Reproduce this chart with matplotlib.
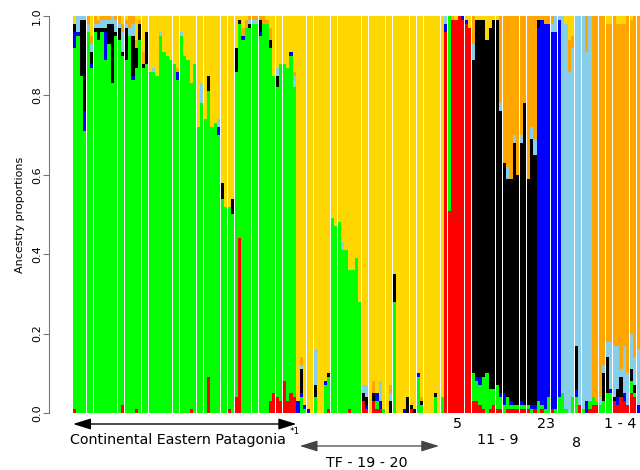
import numpy as np
import matplotlib
matplotlib.use('Agg')
import matplotlib.pyplot as plt

# cluster colours, stacked bottom -> top
cluster_colors = ['#FF0000', '#00FF00', '#0000FF', '#000000', '#87CEEB', '#FFA500', '#FFD700']

# ancestry proportions (%) per individual: red, green, blue, black, skyblue, orange, gold
cep = [
    [1, 91, 4, 2, 0, 0, 2], [0, 95, 1, 0, 4, 0, 0], [0, 85, 0, 14, 1, 0, 0], [0, 71, 5, 23, 1, 0, 0],
    [0, 96, 0, 0, 2, 2, 0], [0, 87, 1, 3, 2, 2, 5], [0, 96, 0, 1, 1, 2, 0], [0, 94, 0, 3, 1, 1, 1],
    [0, 96, 0, 1, 2, 1, 0], [0, 89, 7, 1, 2, 1, 0], [0, 93, 0, 5, 1, 1, 0], [0, 83, 0, 15, 2, 0, 0],
    [0, 95, 0, 1, 3, 1, 0], [0, 94, 0, 3, 1, 2, 0], [2, 88, 0, 1, 5, 2, 2], [0, 89, 0, 8, 1, 1, 1],
    [0, 95, 0, 0, 2, 3, 0], [0, 84, 1, 10, 3, 2, 0], [1, 86, 0, 5, 0, 2, 6], [0, 94, 0, 4, 0, 1, 1],
    [0, 87, 0, 1, 0, 3, 9], [0, 88, 0, 8, 0, 0, 4], [0, 86, 0, 0, 0, 0, 14], [0, 86, 0, 0, 1, 0, 13],
    [0, 85, 0, 0, 0, 0, 15], [0, 95, 0, 0, 1, 0, 4], [0, 91, 0, 0, 0, 0, 9], [0, 90, 0, 0, 0, 0, 10],
    [0, 89, 0, 0, 0, 0, 11], [0, 88, 0, 0, 0, 0, 12], [0, 84, 2, 0, 0, 1, 13], [0, 95, 0, 0, 1, 0, 4],
    [0, 90, 0, 0, 0, 0, 10], [0, 89, 0, 0, 0, 0, 11], [1, 82, 0, 0, 0, 0, 17], [0, 88, 0, 0, 0, 0, 12],
    [0, 72, 0, 0, 0, 0, 28], [0, 78, 0, 0, 5, 0, 17], [0, 74, 0, 0, 0, 0, 26], [9, 72, 0, 4, 0, 0, 15],
    [0, 72, 0, 0, 0, 0, 28], [0, 73, 0, 0, 0, 0, 27], [0, 70, 2, 0, 2, 0, 26], [0, 54, 0, 4, 0, 0, 42],
    [0, 52, 0, 0, 0, 0, 48], [1, 51, 0, 0, 0, 0, 48], [0, 50, 0, 4, 0, 0, 46], [4, 82, 0, 6, 0, 0, 8],
    [44, 54, 0, 1, 0, 0, 1], [0, 94, 1, 0, 0, 2, 3], [0, 97, 0, 0, 0, 2, 1], [0, 97, 0, 1, 1, 1, 0],
    [0, 98, 0, 0, 1, 1, 0], [0, 98, 0, 0, 1, 1, 0], [0, 95, 1, 3, 0, 1, 0], [0, 98, 0, 0, 0, 2, 0],
    [0, 98, 0, 0, 0, 1, 1], [3, 89, 0, 2, 0, 3, 3], [5, 80, 0, 0, 0, 0, 15], [4, 78, 0, 3, 2, 0, 13],
    [3, 85, 0, 0, 0, 0, 12], [8, 80, 0, 0, 0, 0, 12], [3, 84, 0, 0, 0, 0, 13], [5, 85, 1, 0, 0, 0, 9],
    [4, 78, 0, 0, 3, 1, 14],
]
tf = [
    [0, 0, 3, 0, 0, 0, 97], [0, 4, 1, 6, 1, 2, 86], [0, 1, 1, 0, 0, 0, 98], [0, 0, 1, 0, 0, 0, 99],
    [0, 0, 0, 0, 0, 0, 100], [0, 4, 0, 3, 9, 0, 84], [0, 0, 0, 0, 0, 0, 100], [0, 0, 0, 0, 0, 0, 100],
    [0, 7, 1, 0, 0, 0, 92], [1, 8, 0, 1, 0, 0, 90], [0, 49, 0, 0, 0, 0, 51], [0, 47, 0, 0, 0, 0, 53],
    [0, 48, 0, 0, 0, 0, 52], [0, 41, 0, 0, 2, 0, 57], [0, 41, 0, 0, 0, 0, 59], [1, 35, 0, 0, 0, 0, 64],
    [0, 36, 0, 0, 0, 0, 64], [0, 39, 0, 0, 0, 0, 61], [0, 28, 0, 0, 0, 0, 72], [3, 0, 0, 2, 2, 0, 93],
    [1, 0, 1, 2, 3, 0, 93], [0, 0, 0, 0, 0, 0, 100], [3, 0, 0, 2, 0, 3, 92], [1, 2, 2, 0, 0, 0, 95],
    [1, 0, 2, 0, 5, 0, 92], [0, 1, 0, 0, 0, 0, 99], [0, 0, 0, 0, 0, 0, 100], [0, 0, 0, 3, 2, 2, 93],
    [0, 28, 0, 7, 0, 0, 65], [0, 0, 0, 0, 0, 0, 100], [0, 0, 0, 0, 0, 0, 100], [0, 0, 1, 0, 0, 0, 99],
    [0, 0, 0, 4, 0, 0, 96], [1, 0, 0, 1, 0, 0, 98], [0, 0, 0, 1, 0, 0, 99], [0, 9, 1, 0, 0, 0, 90],
    [0, 2, 0, 1, 0, 1, 96], [0, 0, 0, 0, 0, 0, 100], [0, 0, 0, 0, 0, 0, 100], [0, 0, 0, 0, 0, 0, 100],
    [0, 4, 0, 1, 0, 0, 95], [0, 0, 0, 0, 0, 0, 100], [0, 4, 0, 0, 0, 0, 96],
]
g5 = [
    [96, 0, 2, 0, 2, 0, 0], [51, 49, 0, 0, 0, 0, 0], [99, 0, 0, 0, 0, 1, 0], [99, 0, 0, 0, 0, 0, 1],
    [100, 0, 0, 0, 0, 0, 0], [99, 0, 1, 0, 0, 0, 0], [98, 0, 1, 0, 0, 0, 1], [97, 0, 0, 0, 0, 0, 3],
]
g11_9 = [
    [3, 7, 0, 79, 4, 7, 0], [3, 5, 1, 90, 0, 0, 1], [2, 5, 2, 90, 0, 0, 1], [1, 8, 0, 90, 0, 0, 1],
    [0, 10, 0, 84, 0, 0, 6], [1, 5, 0, 91, 0, 0, 3], [2, 4, 0, 93, 0, 0, 1], [1, 6, 0, 92, 0, 0, 1],
    [1, 3, 1, 71, 2, 22, 0], [0, 2, 3, 58, 0, 37, 0], [1, 3, 0, 55, 3, 38, 0], [1, 1, 1, 56, 0, 41, 0],
    [1, 1, 0, 66, 2, 30, 0], [1, 1, 0, 58, 0, 40, 0], [1, 1, 1, 65, 2, 30, 0], [1, 1, 0, 76, 0, 22, 0],
    [1, 1, 0, 57, 0, 41, 0], [0, 1, 1, 67, 3, 28, 0], [1, 0, 1, 63, 4, 31, 0],
]
g23 = [
    [0, 3, 94, 2, 0, 1, 0], [1, 1, 97, 0, 0, 1, 0], [0, 1, 97, 0, 0, 2, 0], [0, 4, 94, 0, 0, 2, 0],
    [1, 0, 95, 0, 2, 2, 0], [0, 1, 95, 0, 4, 0, 0], [0, 4, 95, 0, 1, 0, 0],
]
g8 = [
    [0, 5, 0, 0, 95, 0, 0], [0, 1, 0, 0, 97, 0, 2], [0, 0, 0, 0, 86, 8, 6], [0, 4, 0, 0, 88, 3, 5],
    [0, 4, 2, 11, 83, 0, 0], [2, 0, 0, 0, 98, 0, 0], [0, 1, 0, 0, 99, 0, 0], [0, 0, 3, 0, 88, 9, 0],
    [1, 2, 0, 0, 97, 0, 0],
]
g1_4 = [
    [2, 2, 0, 0, 0, 96, 0], [2, 1, 0, 0, 0, 97, 0], [0, 2, 0, 0, 2, 96, 0], [0, 3, 0, 7, 2, 88, 0],
    [0, 5, 0, 9, 4, 80, 2], [0, 5, 1, 0, 12, 80, 2], [3, 0, 0, 1, 13, 83, 0], [2, 0, 2, 2, 11, 81, 2],
    [4, 0, 0, 5, 2, 87, 2], [3, 0, 2, 0, 12, 81, 2], [2, 0, 0, 0, 8, 90, 0], [5, 3, 0, 3, 9, 79, 1],
    [4, 1, 0, 2, 7, 86, 0], [0, 0, 2, 0, 14, 84, 0],
]

q = np.vstack([np.array(g, float) for g in [cep, tf, g5, g11_9, g23, g8, g1_4]])
q = q / q.sum(axis=1, keepdims=True)
n = len(q)

# group starts (bar index) for the annotations
s_tf = len(cep)
s5 = s_tf + len(tf)
s11 = s5 + len(g5)
s23 = s11 + len(g11_9)
s8 = s23 + len(g23)
s14 = s8 + len(g8)

fig = plt.figure(figsize=(6.4, 4.7), dpi=100)
ax = fig.add_axes([73/640, 57/470, 567/640, 397/470])

x = np.arange(n)
bottom = np.zeros(n)
for k, col in enumerate(cluster_colors):
    ax.bar(x, q[:, k], bottom=bottom, width=0.92, align='edge', color=col, linewidth=0)
    bottom += q[:, k]

ax.set_xlim(0, n)
ax.set_ylim(0, 1)
for s in ['top', 'right', 'bottom']:
    ax.spines[s].set_visible(False)
ax.spines['left'].set_position(('outward', 17))
ax.spines['left'].set_color('#777777')
ax.set_xticks([])
ax.set_yticks(np.arange(0, 1.01, 0.2))
ax.set_yticklabels(['%.1f' % v for v in np.arange(0, 1.01, 0.2)])
ax.tick_params(axis='y', length=4.3, width=0.8, color='#777777', labelsize=8, pad=1)
for lab in ax.get_yticklabels():
    lab.set_rotation(90)
    lab.set_va('center')
ax.set_ylabel('Ancestry proportions', fontsize=8)
ax.yaxis.set_label_coords(-0.085, 0.5)


def fy(py):
    return 1 - py / 470.0


# arrows spanning the two big groups
arrow = '<|-|>,head_length=0.9,head_width=0.28'
ax.annotate('', xy=(0, fy(424)), xytext=(s_tf, fy(424)), xycoords=('data', 'figure fraction'),
            textcoords=('data', 'figure fraction'), annotation_clip=False,
            arrowprops=dict(arrowstyle=arrow, color='black', lw=1.0,
                            shrinkA=0, shrinkB=0, mutation_scale=12))
ax.annotate('', xy=(s_tf + 1, fy(446)), xytext=(s5 - 1.5, fy(446)), xycoords=('data', 'figure fraction'),
            textcoords=('data', 'figure fraction'), annotation_clip=False,
            arrowprops=dict(arrowstyle=arrow, color='#444444', lw=0.9,
                            shrinkA=0, shrinkB=0, mutation_scale=12))

fig.text(70/640, fy(440), 'Continental Eastern Patagonia', fontsize=10.3, ha='left', va='center')
fig.text(290/640, fy(432), '*1', fontsize=6.5, ha='left', va='center')
fig.text(367/640, fy(463), 'TF - 19 - 20', fontsize=10.3, ha='center', va='center')

for label, cx, py in [('5', (s5 + s11) / 2, 424), ('11 - 9', (s11 + s23) / 2 - 2, 440),
                      ('23', (s23 + s8) / 2 - 0.8, 424), ('8', (s8 + s14) / 2, 443),
                      ('1 - 4', (s14 + n) / 2 + 1.3, 424)]:
    ax.annotate(label, xy=(cx, fy(py)), xycoords=('data', 'figure fraction'), fontsize=10.3,
                ha='center', va='center', annotation_clip=False)

fig.savefig('out.png', dpi=100)
